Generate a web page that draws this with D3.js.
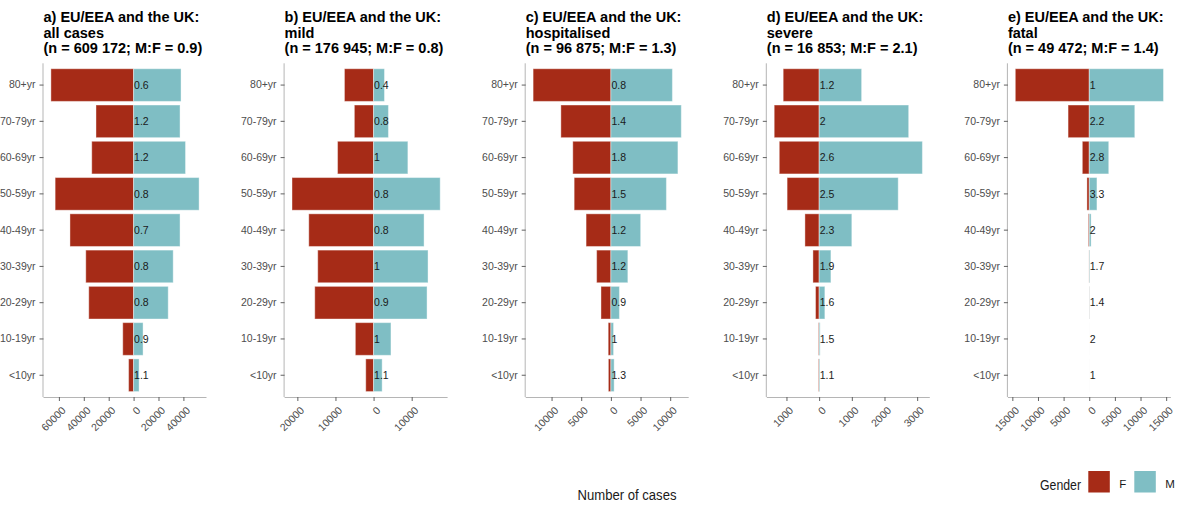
<!DOCTYPE html>
<html>
<head>
<meta charset="utf-8">
<script src="https://cdn.jsdelivr.net/npm/d3@7"></script>
<style>
  html, body { margin: 0; padding: 0; background: #fff; }
  svg { display: block; font-family: "Liberation Sans", Arial, sans-serif; }
</style>
</head>
<body>
<svg id="chart" width="1177" height="505"></svg>
<script>
// Age groups, top to bottom
const ageGroups = ["80+yr", "70-79yr", "60-69yr", "50-59yr", "40-49yr", "30-39yr", "20-29yr", "10-19yr", "<10yr"];

// a) all cases
const femaleAll = [66400, 30200, 33600, 63000, 51100, 38400, 36000, 8700, 4000];
const maleAll   = [38100, 37300, 41700, 52600, 37300, 31800, 27800, 7600, 4400];
const ratioAll  = ["0.6", "1.2", "1.2", "0.8", "0.7", "0.8", "0.8", "0.9", "1.1"];
const ticksAll  = [-60000, -40000, -20000, 0, 20000, 40000];

// b) mild
const femaleMild = [7640, 5040, 9450, 21400, 17000, 14650, 15430, 4780, 2050];
const maleMild   = [2860, 3900, 9000, 17480, 13250, 14290, 14030, 4560, 2250];
const ratioMild  = ["0.4", "0.8", "1", "0.8", "0.8", "1", "0.9", "1", "1.1"];
const ticksMild  = [-20000, -10000, 0, 10000];

// c) hospitalised
const femaleHosp = [13110, 8430, 6420, 6190, 4180, 2400, 1670, 450, 420];
const maleHosp   = [10370, 11870, 11300, 9360, 5020, 2860, 1440, 450, 550];
const ratioHosp  = ["0.8", "1.4", "1.8", "1.5", "1.2", "1.2", "0.9", "1", "1.3"];
const ticksHosp  = [-10000, -5000, 0, 5000, 10000];

// d) severe
const femaleSevere = [1100, 1375, 1220, 980, 435, 190, 110, 20, 20];
const maleSevere   = [1300, 2740, 3160, 2420, 1000, 360, 175, 30, 22];
const ratioSevere  = ["1.2", "2", "2.6", "2.5", "2.3", "1.9", "1.6", "1.5", "1.1"];
const ticksSevere  = [-1000, 0, 1000, 2000, 3000];

// e) fatal
const femaleFatal = [14420, 4130, 1350, 450, 180, 60, 30, 2, 3];
const maleFatal   = [14480, 8880, 3800, 1500, 360, 100, 42, 4, 3];
const ratioFatal  = ["1", "2.2", "2.8", "3.3", "2", "1.7", "1.4", "2", "1"];
const ticksFatal  = [-15000, -10000, -5000, 0, 5000, 10000, 15000];

const panelTitles = [
  ["a) EU/EEA and the UK:", "all cases", "(n = 609 172; M:F = 0.9)"],
  ["b) EU/EEA and the UK:", "mild", "(n = 176 945; M:F = 0.8)"],
  ["c) EU/EEA and the UK:", "hospitalised", "(n = 96 875; M:F = 1.3)"],
  ["d) EU/EEA and the UK:", "severe", "(n = 16 853; M:F = 2.1)"],
  ["e) EU/EEA and the UK:", "fatal", "(n = 49 472; M:F = 1.4)"]
];

const genders = ["F", "M"];
const genderColors = ["#a62b17", "#7fbec4"];

const panels = [
  { title: panelTitles[0], female: femaleAll,    male: maleAll,    ratio: ratioAll,    ticks: ticksAll },
  { title: panelTitles[1], female: femaleMild,   male: maleMild,   ratio: ratioMild,   ticks: ticksMild },
  { title: panelTitles[2], female: femaleHosp,   male: maleHosp,   ratio: ratioHosp,   ticks: ticksHosp },
  { title: panelTitles[3], female: femaleSevere, male: maleSevere, ratio: ratioSevere, ticks: ticksSevere },
  { title: panelTitles[4], female: femaleFatal,  male: maleFatal,  ratio: ratioFatal,  ticks: ticksFatal }
];

const svg = d3.select("#chart");
const color = d3.scaleOrdinal().domain(genders).range(genderColors);

const panelLeft0 = 43.5, panelStep = 241.1, panelWidth = 163;
const plotTop = 63.3, plotBottom = 397;
const axisLineColor = "#b5b5b5", tickColor = "#606060", labelColor = "#4d4d4d";

panels.forEach((p, i) => {
  const x0 = panelLeft0 + i * panelStep, x1 = x0 + panelWidth;
  const maxF = d3.max(p.female), maxM = d3.max(p.male);
  const pad = 0.05 * (maxF + maxM);
  const x = d3.scaleLinear().domain([-maxF - pad, maxM + pad]).range([x0, x1]);
  const y = d3.scaleBand().domain(ageGroups).range([plotTop, plotBottom])
    .paddingInner(0.1).paddingOuter(0.15);

  const g = svg.append("g");

  // title
  const t = g.append("text").attr("font-weight", "bold").attr("font-size", "14.5px").attr("fill", "#000");
  p.title.forEach((line, k) => {
    t.append("tspan").attr("x", x0).attr("y", 22 + k * 15.5).text(line);
  });

  // bars: females to the left of zero, males to the right
  const rows = ageGroups.map((a, k) => ({ age: a, f: p.female[k], m: p.male[k], r: p.ratio[k] }));
  g.selectAll(".barF").data(rows).join("rect")
    .attr("x", d => x(-d.f)).attr("width", d => x(0) - x(-d.f))
    .attr("y", d => y(d.age)).attr("height", y.bandwidth())
    .attr("fill", color("F")).attr("stroke", "#fff").attr("stroke-opacity", 0.4).attr("stroke-width", 1);
  g.selectAll(".barM").data(rows).join("rect")
    .attr("x", x(0)).attr("width", d => x(d.m) - x(0))
    .attr("y", d => y(d.age)).attr("height", y.bandwidth())
    .attr("fill", color("M")).attr("stroke", "#fff").attr("stroke-opacity", 0.4).attr("stroke-width", 1);

  // M:F ratio labels
  g.selectAll(".ratio").data(rows).join("text")
    .attr("x", x(0) + 0.5).attr("y", d => y(d.age) + y.bandwidth() / 2).attr("dy", "0.36em")
    .attr("font-size", "10.5px").attr("fill", "#1a1a1a").text(d => d.r);

  // x axis
  const xa = g.append("g").attr("transform", `translate(0,${plotBottom})`)
    .call(d3.axisBottom(x).tickValues(p.ticks).tickFormat(d => String(Math.abs(d))).tickSize(4).tickSizeOuter(0));
  xa.select(".domain").attr("stroke", axisLineColor).attr("d", `M${x0},0.5H${x1}`);
  xa.selectAll(".tick line").attr("stroke", tickColor);
  xa.selectAll(".tick text")
    .attr("x", null).attr("y", null).attr("dy", null)
    .attr("transform", "translate(7,14) rotate(-45)")
    .style("text-anchor", "end").attr("font-size", "10.5px").attr("fill", labelColor);

  // y axis
  const ya = g.append("g").attr("transform", `translate(${x0},0)`)
    .call(d3.axisLeft(y).tickSize(4).tickPadding(4).tickSizeOuter(0));
  ya.select(".domain").attr("stroke", axisLineColor).attr("d", `M-0.5,${plotTop}V${plotBottom}`);
  ya.selectAll(".tick line").attr("stroke", tickColor);
  ya.selectAll(".tick text").attr("font-size", "10.5px").attr("fill", labelColor);
  xa.attr("font-family", null); ya.attr("font-family", null);
});

// shared x axis title
svg.append("text").attr("x", 627).attr("y", 500).attr("text-anchor", "middle")
  .attr("font-family", "'Liberation Sans Narrow', 'Arial Narrow', 'Liberation Sans', sans-serif")
  .attr("font-size", "14px").attr("fill", "#1a1a1a")
  .attr("textLength", 99).attr("lengthAdjust", "spacingAndGlyphs")
  .text("Number of cases");

// legend
const legend = svg.append("g")
  .attr("font-family", "'Liberation Sans Narrow', 'Arial Narrow', 'Liberation Sans', sans-serif")
  .attr("fill", "#1a1a1a");
legend.append("text").attr("x", 1040).attr("y", 489.5).attr("font-size", "14px")
  .attr("textLength", 41).attr("lengthAdjust", "spacingAndGlyphs").text("Gender");
const legendX = [1088.3, 1134.3];
genders.forEach((gname, k) => {
  legend.append("rect").attr("x", legendX[k]).attr("y", 471).attr("width", 21.5).attr("height", 21.5)
    .attr("fill", color(gname));
  legend.append("text").attr("x", legendX[k] + 31).attr("y", 488).attr("font-size", "11.5px").text(gname);
});
</script>
</body>
</html>
